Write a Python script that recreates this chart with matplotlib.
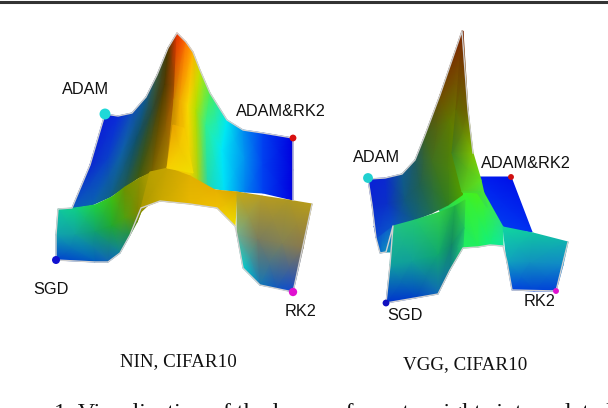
import numpy as np
import matplotlib
matplotlib.use("Agg")
import matplotlib.pyplot as plt
from matplotlib.colors import to_rgb

# ---------- NIN surface patches: rows of (x, y) with colours ----------
nin_back_left_x = [[105,118,132,146,157,168,177],
                   [90,107,122,137,152,165,176],
                   [72,92,110,125,138,152,168]]
nin_back_left_y = [[114,116,113,97,75,48,33],
                   [165,160,152,138,112,85,85],
                   [208,205,197,187,178,172,168]]
nin_back_left_c = [['#0a20d8','#0a2cd8','#0f50b8','#105a90','#3a5a40','#4a3a00','#e83000'],
                   ['#0a28d0','#0a40c8','#0f60a8','#10506a','#2a4a38','#503a00','#b05000'],
                   ['#0a58c0','#0a62b0','#106088','#205a50','#3d5a10','#786400','#b08a00']]

nin_back_right_x = [[177,186,193,200,210,227,243,263,293],
                    [174,180,188,196,206,222,245,263,293],
                    [167,180,190,198,208,224,245,263,293]]
nin_back_right_y = [[33,42,52,70,93,120,130,133,138],
                    [100,100,105,110,125,150,160,165,170],
                    [168,173,178,182,188,190,192,193,200]]
nin_back_right_c = [['#e82800','#ff7000','#ffb000','#c8e000','#50ee50','#00e8f0','#0090f0','#0040f0','#0000e0'],
                    ['#c88800','#f0a800','#f8d800','#b0e000','#30f090','#00e8f8','#0090f0','#0040f0','#0000e0'],
                    ['#c89800','#f0c800','#f0d000','#b0d010','#20d8b0','#00e0f8','#0080f0','#0040f0','#0000e0']]

nin_front_left_x = [[58,75,95,112,125,140,152],
                    [56,75,95,112,125,138,148],
                    [56,95,108,120,130,137,141]]
nin_front_left_y = [[209,208,205,197,187,178,172],
                    [235,235,232,226,218,212,205],
                    [260,262,262,253,235,222,208]]
nin_front_left_c = [['#10c8a0','#10d088','#20d040','#40c010','#709000','#909000','#b8a000'],
                    ['#10a0b0','#10a0a0','#10a070','#20a830','#50a010','#808800','#a89800'],
                    ['#0040d0','#0058c0','#1060b8','#1080a0','#209050','#608810','#a09800']]

nin_center_x = [[150,168,190,215,237],
                [141,160,190,217,235]]
nin_center_y = [[172,168,176,190,192],
                [208,201,204,208,226]]
nin_center_c = [['#b8a000','#c8a400','#e0b000','#e8b000','#d8a800'],
                ['#a89800','#c8a800','#e8b800','#f0c000','#f0e000']]

nin_right_leg_x = [[237,262,288,312],
                   [237,258,282,303],
                   [243,260,276,293]]
nin_right_leg_y = [[192,196,200,204],
                   [235,240,244,248],
                   [268,285,288,292]]
nin_right_leg_c = [['#c8a810','#b89c20','#b09820','#b89c18'],
                   ['#70b090','#787c60','#808058','#887850'],
                   ['#00d0d0','#1078b8','#1058c0','#1048d0']]

nin_facet_x = [[173,184],[167,193]]
nin_facet_y = [[125,128],[168,173]]
nin_facet_c = [['#e8a000','#f8c800'],['#f8d000','#f0e000']]

nin_outline_x = [105,90,72,58,56,56,95,108,120,130,141,160,190,217,235,237,243,260,293,312]
nin_outline_y = [114,165,208,209,235,260,262,262,253,235,208,201,204,208,226,235,268,285,292,204]
nin_back_edge_x = [105,118,132,146,157,168,177,186,193,200,210,227,243,263,293,293]
nin_back_edge_y = [114,116,113,97,75,48,33,42,52,70,93,120,130,133,138,200]

# ---------- VGG surface patches ----------
vgg_back_left_x = [[368,385,402,415,425,440,462],
                   [372,387,405,420,432,450,464],
                   [376,392,415,432,448,462,468]]
vgg_back_left_y = [[179,178,174,160,135,95,31],
                   [205,204,200,185,160,120,90],
                   [238,226,220,213,205,195,170]]
vgg_back_left_c = [['#0a20d8','#0a28d0','#105a90','#205a60','#406020','#704a00','#802000'],
                   ['#0a28d0','#0a30c8','#105880','#206050','#407020','#607800','#786000'],
                   ['#0a48d0','#0a50c8','#106080','#207050','#308020','#50a000','#70b000']]

vgg_lower_left_x = [[374,385,396],[380,386,393]]
vgg_lower_left_y = [[226,224,222],[253,252,252]]
vgg_lower_left_c = [['#0a40d0','#0a50d0','#1060c0'],['#0a70c8','#1090c0','#10a8b0']]

vgg_back_right_x = [[478,511],[490,532]]
vgg_back_right_y = [[177,177],[226,232]]
vgg_back_right_c = [['#0020f0','#0010e8'],['#0040f0','#0030f0']]

vgg_front_left_x = [[393,415,440,455,465],
                    [390,412,438,452,464],
                    [386,415,438,450,463]]
vgg_front_left_y = [[226,220,212,206,200],
                    [265,262,255,245,228],
                    [303,298,294,270,248]]
vgg_front_left_c = [['#20c088','#20c870','#30d048','#20b040','#40e030'],
                    ['#10a0a0','#10a098','#10a870','#108868','#20c060'],
                    ['#0030d0','#0040c8','#1068b8','#108090','#20d070']]

vgg_center_x = [[438,462,480,503],
                [463,478,490,503]]
vgg_center_y = [[208,188,186,227],
                [248,247,245,246]]
vgg_center_c = [['#20c868','#40f020','#50f010','#20e090'],
                ['#20f060','#20f060','#10f080','#10e8a0']]

vgg_right_leg_x = [[503,533,568],
                   [507,530,563],
                   [512,534,556]]
vgg_right_leg_y = [[227,233,242],
                   [262,263,265],
                   [290,291,291]]
vgg_right_leg_c = [['#10d8a0','#10c4a4','#10b0b0'],
                   ['#10a0c0','#1090c0','#1088c8'],
                   ['#0040e0','#0040d8','#0040d8']]

vgg_ridge_x = [[462,463],[456,468],[452,473],[462,481],[480,487]]
vgg_ridge_y = [[31,31],[110,110],[153,153],[192,180],[192,207]]
vgg_ridge_c = [['#802000','#802000'],['#606800','#706000'],['#408020','#80c000'],['#50c820','#60e020'],['#40e830','#30e060']]

vgg_outline_x = [368,372,376,380,386,393,390,386,415,438,450,463,478,490,503,507,512,556,568]
vgg_outline_y = [179,205,238,253,252,226,265,303,298,294,270,248,247,245,246,262,290,291,242]
vgg_back_edge_x = [368,385,402,415,425,440,462,468,473]
vgg_back_edge_y = [179,178,174,160,135,95,31,110,153]

# ---------- corner markers and labels ----------
point_x = [105,293,56,293, 368,511,386,556]
point_y = [114,138,260,292, 178,177,303,291]
point_c = ['#20d8d8','#d81010','#1010d0','#e010d0','#20d0d0','#d01010','#1010c0','#e010d0']
point_s = [62,24,33,36, 50,18,24,18]

label_names = ['ADAM','ADAM&RK2','SGD','RK2','ADAM','ADAM&RK2','SGD','RK2']
label_x = [85.5,281,51,301, 377,526,405,540]
label_y = [89,111,290,312, 158,164,315,302]

caption_names = ['NIN, CIFAR10','VGG, CIFAR10']
caption_x = [178,465]
caption_y = [362,365]
bottom_text = '1. Visualization of the loss surface at weights interpolated'

fig = plt.figure(figsize=(6.08,4.08), dpi=100, facecolor='white')
ax = fig.add_axes([0,0,1,1])
ax.set_xlim(0,608); ax.set_ylim(408,0); ax.axis('off')

def mesh(x, y, c):
    rgb = np.array([[to_rgb(v) for v in r] for r in c])
    ax.pcolormesh(np.array(x,float), np.array(y,float), rgb, shading='gouraud', antialiased=True, zorder=2)

for p in [(nin_back_left_x,nin_back_left_y,nin_back_left_c),
          (nin_back_right_x,nin_back_right_y,nin_back_right_c),
          (nin_front_left_x,nin_front_left_y,nin_front_left_c),
          (nin_center_x,nin_center_y,nin_center_c),
          (nin_right_leg_x,nin_right_leg_y,nin_right_leg_c),
          (nin_facet_x,nin_facet_y,nin_facet_c),
          (vgg_back_right_x,vgg_back_right_y,vgg_back_right_c),
          (vgg_lower_left_x,vgg_lower_left_y,vgg_lower_left_c),
          (vgg_center_x,vgg_center_y,vgg_center_c),
          (vgg_back_left_x,vgg_back_left_y,vgg_back_left_c),
          (vgg_ridge_x,vgg_ridge_y,vgg_ridge_c),
          (vgg_front_left_x,vgg_front_left_y,vgg_front_left_c),
          (vgg_right_leg_x,vgg_right_leg_y,vgg_right_leg_c)]:
    mesh(*p)

for ox, oy in [(nin_outline_x,nin_outline_y),(nin_back_edge_x,nin_back_edge_y),
               (vgg_outline_x,vgg_outline_y),(vgg_back_edge_x,vgg_back_edge_y)]:
    ax.plot(ox, oy, color='#d0d0d0', lw=1.0, zorder=3, solid_joinstyle='round')

ax.scatter(point_x, point_y, c=point_c, s=point_s, linewidths=0, zorder=4)

for n,x,y in zip(label_names,label_x,label_y):
    ax.text(x,y,n,ha='center',va='center',family='Liberation Sans',fontsize=11.7,color='#111111',zorder=5)
for n,x,y in zip(caption_names,caption_x,caption_y):
    ax.text(x,y,n,ha='center',va='center',family='Liberation Serif',fontsize=13.7,color='#111111')
ax.text(54,402.5,bottom_text,ha='left',va='top',family='Liberation Serif',fontsize=17.4,color='#111111',clip_on=True)
ax.axhline(1.5,color='#333333',lw=2.2)

fig.savefig('out.png',dpi=100,facecolor='white')
